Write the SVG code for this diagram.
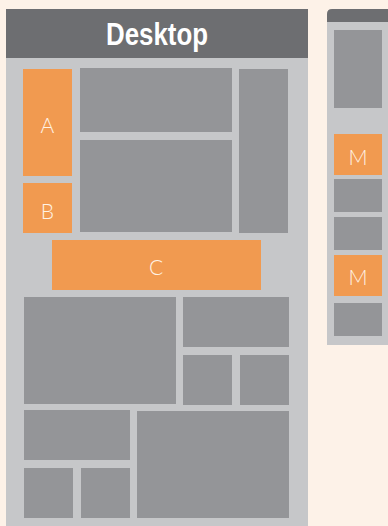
<svg xmlns="http://www.w3.org/2000/svg" width="388" height="526" viewBox="0 0 388 526">
<style>
.bg{fill:#FDF2E8}
.panel{fill:#C6C7C9}
.head{fill:#6D6E71}
.g{fill:#949598}
.o{fill:#F19A50}
.lbl{font-family:Lato,"Open Sans","Liberation Sans",sans-serif;font-weight:300;font-size:21px;fill:#FFF3E6;text-anchor:middle}
.title{font-family:"Liberation Sans",Arial,sans-serif;font-weight:bold;font-size:32px;fill:#FFFFFF;text-anchor:middle}
</style>
<rect class="bg" x="0" y="0" width="388" height="526"/>
<g id="desktop">
<rect class="panel" x="6" y="9" width="302" height="517"/>
<rect class="head" x="6" y="9" width="302" height="49"/>
<text class="title" x="157" y="45" textLength="102" lengthAdjust="spacingAndGlyphs">Desktop</text>
</g>
<g id="A"><rect class="o" x="23" y="69" width="49" height="107"/><text class="lbl" x="47.5" y="133">A</text></g>
<g id="top-mid"><rect class="g" x="80" y="68" width="152" height="64"/></g>
<g id="right-tall"><rect class="g" x="239" y="69" width="49" height="164"/></g>
<g id="mid-big"><rect class="g" x="80" y="140" width="152" height="92"/></g>
<g id="B"><rect class="o" x="23" y="183" width="49" height="50"/><text class="lbl" x="47.5" y="219">B</text></g>
<g id="C"><rect class="o" x="52" y="240" width="209" height="50"/><text class="lbl" x="156" y="275">C</text></g>
<g id="big-left"><rect class="g" x="24" y="297" width="152" height="107"/></g>
<g id="top-right"><rect class="g" x="183" y="297" width="106" height="50"/></g>
<g id="small1"><rect class="g" x="183" y="355" width="49" height="50"/></g>
<g id="small2"><rect class="g" x="240" y="355" width="49" height="50"/></g>
<g id="lower-left"><rect class="g" x="24" y="410" width="106" height="50"/></g>
<g id="small3"><rect class="g" x="24" y="468" width="49" height="50"/></g>
<g id="small4"><rect class="g" x="81" y="468" width="49" height="50"/></g>
<g id="big-right"><rect class="g" x="137" y="411" width="152" height="107"/></g>
<g id="mobile">
<rect class="panel" x="327" y="15" width="66" height="330"/>
<path class="head" d="M327,22 L327,14 Q327,9 332,9 L393,9 L393,22 Z"/>
</g>
<g id="m-top"><rect class="g" x="334" y="30" width="48" height="78"/></g>
<g id="M1"><rect class="o" x="334" y="134" width="48" height="41"/><text class="lbl" x="358" y="165">M</text></g>
<g id="m-g1"><rect class="g" x="334" y="179" width="48" height="33"/></g>
<g id="m-g2"><rect class="g" x="334" y="217" width="48" height="33"/></g>
<g id="M2"><rect class="o" x="334" y="255" width="48" height="41"/><text class="lbl" x="358" y="285">M</text></g>
<g id="m-g3"><rect class="g" x="334" y="303" width="48" height="33"/></g>
</svg>
